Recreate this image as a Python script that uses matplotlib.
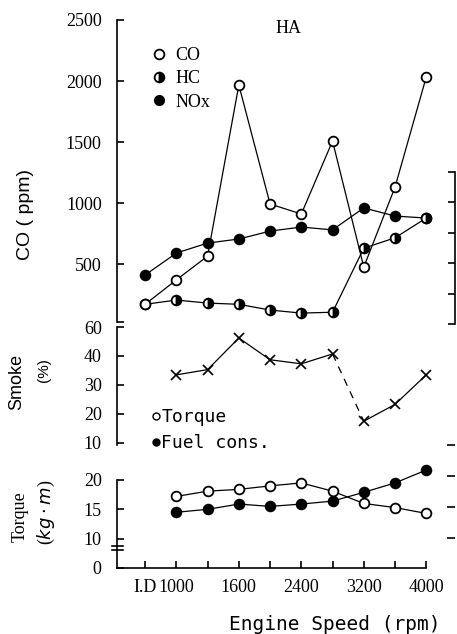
import matplotlib
matplotlib.use('Agg')
import matplotlib.pyplot as plt
from matplotlib.lines import Line2D
import matplotlib.transforms as mtransforms

# engine speeds (categorical positions) and which ones get a label
speeds = ['I.D', '1000', '1300', '1600', '2000', '2400', '2800', '3200', '3600', '4000']
speed_tick_labels = ['I.D', '1000', '', '1600', '', '2400', '', '3200', '', '4000']

# exhaust emissions (ppm)
co = [170, 370, 565, 1967, 992, 910, 1508, 475, 1130, 2033]
hc = [170, 205, 180, 170, 123, 98, 105, 630, 715, 877]
nox = [410, 590, 672, 705, 770, 803, 780, 960, 893, 877]

# smoke (%), torque and fuel consumption from 1000 rpm on
smoke = [33.5, 35.3, 46.2, 38.7, 37.3, 40.7, 17.5, 23.3, 33.5]
torque = [17.2, 18.1, 18.4, 19.0, 19.5, 18.1, 16.0, 15.3, 14.3]
fuel = [14.5, 15.0, 15.9, 15.5, 15.9, 16.4, 17.9, 19.5, 21.7]

co_ticks = [25, 500, 1000, 1500, 2000, 2500]
co_tick_labels = ['', '500', '1000', '1500', '2000', '2500']
smoke_ticks = [10, 20, 30, 40, 50]
smoke_tick_labels = ['10', '20', '30', '40', '60']
torque_ticks = [5, 10, 15, 20]
torque_tick_labels = ['0', '10', '15', '20']

W, H = 457, 634
fig = plt.figure(figsize=(W / 100, H / 100), dpi=100)

serif = 'Liberation Serif'
sans = 'Liberation Sans'
mono = 'DejaVu Sans Mono'


def box(x0, y0, x1, y1):
    # pixel box (top-left origin) -> figure fraction rect
    return [x0 / W, 1 - y1 / H, (x1 - x0) / W, (y1 - y0) / H]


xlim = (-0.9, 9.6)
x = list(range(len(speeds)))
x_run = x[1:]


def style(ax, ticks, labels, lim):
    for s in ['top', 'right', 'bottom']:
        ax.spines[s].set_visible(False)
    ax.spines['left'].set_linewidth(1.2)
    ax.set_xlim(*xlim)
    ax.set_ylim(*lim)
    ax.set_yticks(ticks)
    ax.set_yticklabels(labels, fontfamily=serif, fontsize=13)
    ax.tick_params(axis='y', direction='in', length=5, width=1.2, pad=11)
    ax.set_xticks([])
    ax.patch.set_visible(False)


mk = dict(markersize=7, markeredgewidth=1.3, markeredgecolor='black', color='black',
          linewidth=0.9, clip_on=False)

# ---- top panel: CO / HC / NOx
ax1 = fig.add_axes(box(117, 20, 445, 322))
style(ax1, co_ticks, co_tick_labels, (25, 2500))
ax1.plot(x, nox, marker='o', markerfacecolor='black', zorder=3, **mk)
ax1.plot(x, hc, marker='o', fillstyle='right', markerfacecoloralt='white', markerfacecolor='black', zorder=4, **mk)
ax1.plot(x, co, marker='o', markerfacecolor='white', zorder=5, **mk)
ax1.text(4.6, 2430, 'HA', fontfamily=serif, fontsize=13, ha='center', va='center')

handles = [
    Line2D([], [], linestyle='none', marker='o', markerfacecolor='white', markeredgecolor='black', markersize=7, markeredgewidth=1.3),
    Line2D([], [], linestyle='none', marker='o', fillstyle='right', markerfacecolor='black', markerfacecoloralt='white', markeredgecolor='black', markersize=7, markeredgewidth=1.3),
    Line2D([], [], linestyle='none', marker='o', markerfacecolor='black', markeredgecolor='black', markersize=7),
]
fig.legend(handles, ['CO', 'HC', 'NOx'], loc='upper left', bbox_to_anchor=(145 / W, 1 - 38 / H),
           frameon=False, prop={'family': serif, 'size': 13}, handlelength=0.6,
           handletextpad=0.6, labelspacing=0.35, borderpad=0)

# right-hand bracket on top panel (labels cut off in original)
axr = fig.add_axes(box(440, 172, 455, 324))
for s in ['top', 'left', 'bottom']:
    axr.spines[s].set_visible(False)
axr.spines['right'].set_linewidth(1.2)
axr.set_ylim(0, 5)
axr.set_yticks(range(6))
axr.set_xticks([])
axr.yaxis.tick_right()
axr.tick_params(axis='y', direction='in', length=5, width=1.2, labelright=False)
axr.patch.set_visible(False)

# ---- smoke panel
ax2 = fig.add_axes(box(117, 327, 445, 445))
style(ax2, smoke_ticks, smoke_tick_labels, (9.3, 50))
ax2.plot(x_run, smoke, linestyle='none', marker='x', markersize=7, markeredgewidth=1.2, color='black', clip_on=False)
ax2.plot(x_run[:6], smoke[:6], color='black', linewidth=0.9)
ax2.plot(x_run[5:7], smoke[5:7], color='black', linewidth=0.9, linestyle=(0, (6, 5)))
ax2.plot(x_run[6:], smoke[6:], color='black', linewidth=0.9)

handles2 = [
    Line2D([], [], linestyle='none', marker='o', markerfacecolor='white', markeredgecolor='black', markersize=5, markeredgewidth=1.0),
    Line2D([], [], linestyle='none', marker='o', markerfacecolor='black', markeredgecolor='black', markersize=5),
]
fig.legend(handles2, ['Torque', 'Fuel cons.'], loc='upper left', bbox_to_anchor=(144 / W, 1 - 399 / H),
           frameon=False, prop={'family': mono, 'size': 13}, handlelength=0.3,
           handletextpad=0.15, labelspacing=0.45, borderpad=0)

# ---- torque / fuel panel
ax3 = fig.add_axes(box(117, 480, 445, 568))
style(ax3, torque_ticks, torque_tick_labels, (5, 20))
ax3.spines['bottom'].set_visible(True)
ax3.spines['bottom'].set_linewidth(1.2)
ax3.spines['bottom'].set_bounds(xlim[0], 9)
ax3.set_xticks(x)
ax3.set_xticklabels(speed_tick_labels, fontfamily=serif, fontsize=13)
ax3.tick_params(axis='x', direction='in', length=5, width=1.2, pad=8)
ax3.plot(x_run, fuel, marker='o', markerfacecolor='black', zorder=3, **mk)
ax3.plot(x_run, torque, marker='o', markerfacecolor='white', zorder=4, **mk)

# axis break marks
trans = mtransforms.blended_transform_factory(ax3.transAxes, ax3.transData)
for yb in (8.1, 8.8):
    ax3.plot([-0.015, 0.018], [yb, yb], transform=trans, color='black', linewidth=1.2, clip_on=False)

# right-hand ticks in lower part
axr2 = fig.add_axes(box(440, 445, 455, 538))
for s in ['top', 'left', 'bottom', 'right']:
    axr2.spines[s].set_visible(False)
axr2.set_ylim(0, 3)
axr2.set_yticks(range(4))
axr2.set_xticks([])
axr2.yaxis.tick_right()
axr2.tick_params(axis='y', direction='in', length=6, width=1.2, labelright=False)
axr2.patch.set_visible(False)

# axis titles
fig.text(25 / W, 1 - 215 / H, 'CO ( ppm)', rotation=90, fontfamily=sans, fontsize=14, ha='center', va='center')
fig.text(17 / W, 1 - 382 / H, 'Smoke', rotation=90, fontfamily=sans, fontsize=13, ha='center', va='center')
fig.text(44 / W, 1 - 370 / H, '(%)', rotation=90, fontfamily=sans, fontsize=11, ha='center', va='center')
fig.text(20 / W, 1 - 517 / H, 'Torque', rotation=90, fontfamily=serif, fontsize=13, ha='center', va='center')
fig.text(46 / W, 1 - 512 / H, '($kg\\cdot m$)', rotation=90, fontfamily=serif, fontsize=13, ha='center', va='center')
fig.text(335 / W, 1 - 625 / H, 'Engine Speed (rpm)', fontfamily=mono, fontsize=14, ha='center', va='center')

fig.savefig('out.png', dpi=100)
